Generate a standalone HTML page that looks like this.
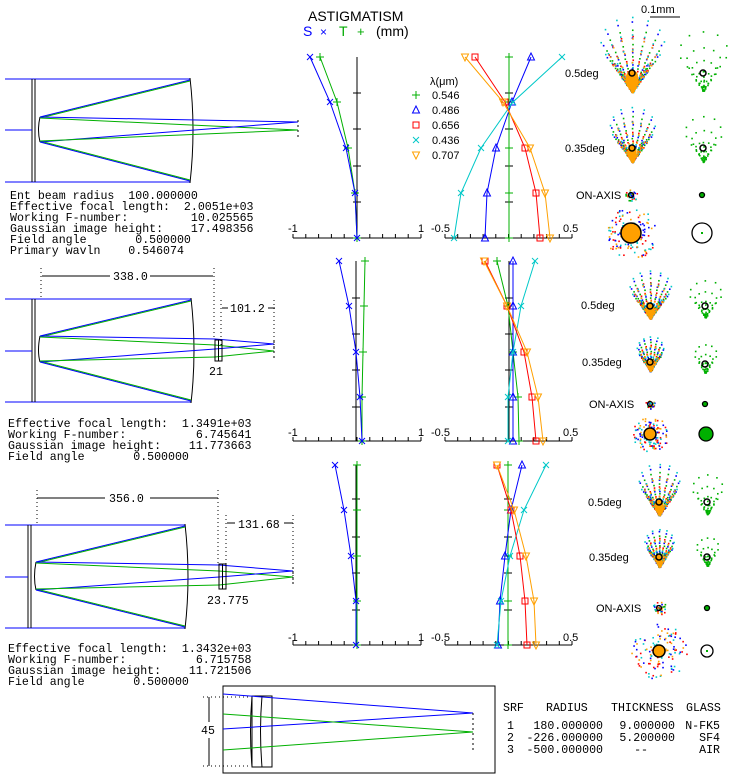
<!DOCTYPE html>
<html><head><meta charset="utf-8"><style>
html,body{margin:0;padding:0;background:#fff;width:743px;height:780px;overflow:hidden}
svg{display:block}
.m{font-family:"Liberation Mono",monospace;font-size:11.6px;fill:#000;white-space:pre}
.s{font-family:"Liberation Sans",sans-serif;font-size:11px;fill:#000}
</style></head><body>
<svg id="s" width="743" height="780" viewBox="0 0 743 780" xmlns="http://www.w3.org/2000/svg">
<g id="g"></g>
<text x="308" y="21" font-family="Liberation Sans,sans-serif" font-size="14" fill="#000">ASTIGMATISM</text>
<text x="303" y="36" font-family="Liberation Sans,sans-serif" font-size="14" fill="#0000ff">S</text>
<text x="320" y="36" font-family="Liberation Sans,sans-serif" font-size="12" fill="#0000ff">×</text>
<text x="339" y="36" font-family="Liberation Sans,sans-serif" font-size="14" fill="#00aa00">T</text>
<text x="357" y="36" font-family="Liberation Sans,sans-serif" font-size="13" fill="#00aa00">+</text>
<text x="376" y="36" font-family="Liberation Sans,sans-serif" font-size="14" fill="#000">(mm)</text>
<text x="641" y="13" class="s" font-size="12">0.1mm</text>
<text class="m" x="10" y="199">Ent beam radius  100.000000</text>
<text class="m" x="10" y="210">Effective focal length:  2.0051e+03</text>
<text class="m" x="10" y="221">Working F-number:         10.025565</text>
<text class="m" x="10" y="232">Gaussian image height:    17.498356</text>
<text class="m" x="10" y="243">Field angle       0.500000</text>
<text class="m" x="10" y="254">Primary wavln    0.546074</text>
<text class="m" x="8" y="427">Effective focal length:  1.3491e+03</text>
<text class="m" x="8" y="438">Working F-number:          6.745641</text>
<text class="m" x="8" y="449">Gaussian image height:    11.773663</text>
<text class="m" x="8" y="460">Field angle       0.500000</text>
<text class="m" x="8" y="652">Effective focal length:  1.3432e+03</text>
<text class="m" x="8" y="663">Working F-number:          6.715758</text>
<text class="m" x="8" y="674">Gaussian image height:    11.721506</text>
<text class="m" x="8" y="685">Field angle       0.500000</text>
<text class="m" x="113" y="280" style="fill:#000">338.0</text>
<text class="m" x="230" y="312">101.2</text>
<text class="m" x="209" y="375">21</text>
<text class="m" x="109" y="502">356.0</text>
<text class="m" x="238" y="528">131.68</text>
<text class="m" x="207" y="604">23.775</text>
<text class="s" x="288" y="232" font-size="12">-1</text><text class="s" x="418" y="232" font-size="12">1</text>
<text class="s" x="431" y="232" font-size="12">-0.5</text><text class="s" x="563" y="232" font-size="12">0.5</text>
<text class="s" x="288" y="436" font-size="12">-1</text><text class="s" x="418" y="436" font-size="12">1</text>
<text class="s" x="431" y="436" font-size="12">-0.5</text><text class="s" x="563" y="436" font-size="12">0.5</text>
<text class="s" x="288" y="641" font-size="12">-1</text><text class="s" x="418" y="641" font-size="12">1</text>
<text class="s" x="431" y="641" font-size="12">-0.5</text><text class="s" x="563" y="641" font-size="12">0.5</text>
<text class="s" x="430" y="85" font-size="12">λ(μm)</text>
<text class="s" x="432" y="99" font-size="12">0.546</text>
<text class="s" x="432" y="114" font-size="12">0.486</text>
<text class="s" x="432" y="129" font-size="12">0.656</text>
<text class="s" x="432" y="144" font-size="12">0.436</text>
<text class="s" x="432" y="159" font-size="12">0.707</text>
<text class="s" x="565" y="77" font-size="12">0.5deg</text>
<text class="s" x="565" y="152" font-size="12">0.35deg</text>
<text class="s" x="576" y="199" font-size="12">ON-AXIS</text>
<text class="s" x="581" y="309" font-size="12">0.5deg</text>
<text class="s" x="582" y="366" font-size="12">0.35deg</text>
<text class="s" x="589" y="408" font-size="12">ON-AXIS</text>
<text class="s" x="588" y="506" font-size="12">0.5deg</text>
<text class="s" x="589" y="561" font-size="12">0.35deg</text>
<text class="s" x="596" y="612" font-size="12">ON-AXIS</text>
<text class="m" x="201" y="734">45</text>
<text class="m" x="503" y="711">SRF</text>
<text class="m" x="546" y="711">RADIUS</text>
<text class="m" x="611" y="711">THICKNESS</text>
<text class="m" x="686" y="711">GLASS</text>
<g class="m" text-anchor="end">
<text class="m" x="514" y="729">1</text><text class="m" x="603" y="729">180.000000</text><text class="m" x="675" y="729">9.000000</text><text class="m" x="720" y="729">N-FK5</text>
<text class="m" x="514" y="741">2</text><text class="m" x="603" y="741">-226.000000</text><text class="m" x="675" y="741">5.200000</text><text class="m" x="720" y="741">SF4</text>
<text class="m" x="514" y="753">3</text><text class="m" x="603" y="753">-500.000000</text><text class="m" x="648" y="753">--</text><text class="m" x="720" y="753">AIR</text>
</g>
</svg>
<script>
var G=document.getElementById('g'),NS='http://www.w3.org/2000/svg';
function E(t,a){var e=document.createElementNS(NS,t);for(var k in a)e.setAttribute(k,a[k]);G.appendChild(e);return e;}
function L(x1,y1,x2,y2,c,d){var a={x1:x1,y1:y1,x2:x2,y2:y2,stroke:c||'#000','stroke-width':1};if(d)a['stroke-dasharray']=d;E('line',a);}
function P(p,c){E('polyline',{points:p.map(function(q){return q.join(',')}).join(' '),fill:'none',stroke:c,'stroke-width':1});}
function Q(p,c){E('path',{d:p,fill:'none',stroke:c||'#000','stroke-width':1});}
var B='#0000ff',GR='#00b000',R='#ff0000',C='#00c8c8',O='#ffa000';
function mk(t,x,y,c){
 if(t=='+'){L(x-4,y,x+4,y,c);L(x,y-4,x,y+4,c);}
 else if(t=='x'){L(x-3,y-3,x+3,y+3,c);L(x-3,y+3,x+3,y-3,c);}
 else if(t=='tri'){E('polygon',{points:(x-3.5)+','+(y+3)+' '+(x+3.5)+','+(y+3)+' '+x+','+(y-4),fill:'none',stroke:c});}
 else if(t=='sq'){E('rect',{x:x-3,y:y-3,width:6,height:6,fill:'none',stroke:c});}
 else if(t=='tdn'){E('polygon',{points:(x-3.5)+','+(y-3)+' '+(x+3.5)+','+(y-3)+' '+x+','+(y+4),fill:'none',stroke:c});}
}
function curve(p,c,t){P(p,c);p.forEach(function(q){mk(t,q[0],q[1],c);});}
function axes(ax,y0,y1,xl,xr,tk){
 L(ax,y0,ax,y1);L(xl,y1,xr,y1);
 for(var i=0;i<=10;i++){var x=xl+(xr-xl)*i/10;L(x,y1,x,y1-4);}
 tk.forEach(function(y){L(ax-4,y,ax+4,y);});
}
var rows=[{y0:57,y1:238,tk:[93,129,166,202],ys:[57,102,148,193,238]},
 {y0:261,y1:441,tk:[298,334,370,407],ys:[261,306,352,397,441]},
 {y0:465,y1:645,tk:[499,537,573,610],ys:[465,510,556,601,645]}];
function mp(xs,r){return xs.map(function(x,i){return [x,rows[r].ys[i]];});}
axes(357,57,238,293,421,rows[0].tk);
curve(mp([320,337,348,355,357],0),GR,'+');
curve(mp([310,330,346,355,357],0),B,'x');
axes(509,57,238,445,572,rows[0].tk);
curve(mp([509,509,509,509,509],0),GR,'+');
curve(mp([531,512,496,487,485],0),B,'tri');
curve(mp([475,505,525,536,540],0),R,'sq');
curve(mp([562,513,481,461,454],0),C,'x');
curve(mp([465,503,530,545,550],0),O,'tdn');
mk('+',416,95,GR);mk('tri',416,110,B);mk('sq',416,125,R);mk('x',416,140,C);mk('tdn',416,155,O);
axes(356,261,441,293,421,rows[1].tk);
curve(mp([365,364,363,362,362],1),GR,'+');
curve(mp([339,349,356,360,362],1),B,'x');
axes(509,261,441,445,572,rows[1].tk);
curve(mp([497,508,513,518,519],1),GR,'+');
curve(mp([513,513,513,513,513],1),B,'tri');
curve(mp([535,521,513,508,508],1),C,'x');
curve(mp([485,507,524,532,536],1),R,'sq');
curve(mp([484,507,527,538,543],1),O,'tdn');
axes(356,465,645,293,421,rows[2].tk);
curve(mp([357,357,357,357,357],2),GR,'+');
curve(mp([335,344,351,356,356],2),B,'x');
axes(508,465,645,445,572,rows[2].tk);
curve(mp([508,508,508,508,508],2),GR,'+');
curve(mp([522,511,505,500,498],2),B,'tri');
curve(mp([546,524,510,501,497],2),C,'x');
curve(mp([497,511,520,525,527],2),R,'sq');
curve(mp([497,514,526,534,536],2),O,'tdn');
function layout(o){
 var t=o.t,b=o.b,a=o.a,d1=o.d1,d2=o.d2,sx=o.sx,st=o.st,sb=o.sb,px=o.px,cx=o.cx;
 L(o.g0,t,px,t,GR);L(o.g0,b,px,b,GR);L(5,t,px,t,B);L(5,b,px,b,B);
 L(d1,t,d1,b);L(d2,t,d2,b);L(5,a,d1,a,B);
 Q('M'+sx+','+st+' Q'+(sx-3)+','+a+' '+sx+','+sb);
 Q('M'+px+','+(t-1)+' Q'+(px+6)+','+a+' '+px+','+(b+1));
 L(sx,st,px,t+1,B);L(sx,st+1,px,t+2,GR);L(sx,sb,px,b-1,B);L(sx,sb-1,px,b-2,GR);
 var by=o.by,gy=o.gy;
 if(o.lx){
  L(sx,st,o.lx,st+3,B);L(o.lx,st+3,cx,by,B);
  L(sx,st+1,o.lx,st+9,GR);L(o.lx,st+9,cx,gy,GR);
  L(sx,sb,o.lx,sb-13,B);L(o.lx,sb-13,cx,by,B);
  L(sx,sb-1,o.lx,sb-5,GR);L(o.lx,sb-5,cx,gy,GR);
  E('rect',{x:o.lx,y:o.ly0,width:o.lw,height:o.ly1-o.ly0,fill:'none',stroke:'#000'});
  L(o.lx+o.lw/2,o.ly0,o.lx+o.lw/2,o.ly1);
 } else {
  L(sx,st,cx,by,B);L(sx,st+1,cx,gy,GR);L(sx,sb,cx,by,B);L(sx,sb-1,cx,gy,GR);
 }
 L(cx,a-10,cx,a+10,'#000','2,3');
}
layout({t:79,b:182,a:130,d1:32,d2:35,g0:75,sx:40,st:117,sb:142,px:190,cx:298,by:122,gy:130});
layout({t:299,b:402,a:351,d1:32,d2:35,g0:65,sx:40,st:336,sb:362,px:191,cx:274,by:344,gy:351,lx:215,lw:7,ly0:340,ly1:361});
layout({t:525,b:628,a:577,d1:28,d2:31,g0:107,sx:36,st:562,sb:590,px:185,cx:293,by:571,gy:577,lx:219,lw:7,ly0:564,ly1:589});
L(42,276,110,276);L(150,276,213,276);L(41,268,41,300,'#000','1,3');L(214,268,214,340,'#000','1,3');
L(222,308,228,308);L(268,308,275,308);L(221,300,221,345,'#000','1,3');L(274,300,274,357,'#000','1,3');
L(37,498,105,498);L(150,498,218,498);L(37,490,37,525,'#000','1,3');L(218,490,218,565,'#000','1,3');
L(227,523,235,523);L(284,523,293,523);L(226,515,226,565,'#000','1,3');L(293,515,293,585,'#000','1,3');
L(650,17,680,17);
E('rect',{x:223,y:686,width:272,height:87,fill:'none',stroke:'#000'});
L(203,697,250,697,'#000','1,3');L(203,766,250,766,'#000','1,3');L(209,697,209,722);L(209,738,209,766);
E('rect',{x:252,y:696,width:20,height:71,fill:'none',stroke:'#000'});
Q('M262,696 Q259,731 262,767');Q('M252,696 Q249,731 252,767');
L(223,694,473,713,B);L(223,729,473,713,B);L(223,714,473,732,GR);L(223,750,473,732,GR);
L(473,713,473,752,'#000','2,3');
var seed=7;function rnd(){seed=(seed*9301+49297)%233280;return seed/233280;}
var cols=[GR,B,R,C,O];
function dot(x,y,c,s){E('rect',{x:x,y:y,width:s||1.6,height:s||1.6,fill:c});}
function coma(cx,cy,kx,ky,multi,rings){
 var ax=cy+ky*0.85;
 for(var w=0;w<(multi?5:1);w++){
  var sc=multi?[1,1.12,0.9,1.2,0.85][w]:1,c=multi?cols[w]:GR;
  for(var r=1;r<=rings;r++){var rho=r/rings,n=multi?12:10;
   for(var j=0;j<n;j++){var f=Math.PI*j/n;
    var x=cx+kx*sc*rho*rho*Math.sin(2*f),y=ax-ky*sc*rho*rho*(2+Math.cos(2*f))*0.95;
    dot(x+(rnd()-.5),y+(rnd()-.5),c);}}
 }
 if(multi){E('ellipse',{cx:cx,cy:cy+ky*0.3,rx:kx*0.25,ry:ky*0.45,fill:O});}
 E('circle',{cx:cx,cy:cy,r:3,fill:'none',stroke:'#000','stroke-width':1.5});
}
function onax(cx,cy,r,multi){
 if(multi){for(var i=0;i<40;i++){var a=rnd()*6.28,d=rnd()*r;dot(cx+d*Math.cos(a),cy+d*Math.sin(a),cols[i%5]);}}
 E('circle',{cx:cx,cy:cy,r:2.5,fill:multi?'none':GR,stroke:'#000','stroke-width':1.3});
}
function big(cx,cy,r,R2,multi,fillc){
 if(multi){for(var i=0;i<110;i++){var a=rnd()*6.28,d=r+rnd()*(R2-r);dot(cx+d*Math.cos(a),cy+d*Math.sin(a),cols[1+i%4]);}
  E('circle',{cx:cx,cy:cy,r:r,fill:O,stroke:'#000','stroke-width':1.5});}
 else{E('circle',{cx:cx,cy:cy,r:r,fill:fillc||'none',stroke:'#000','stroke-width':1.3});dot(cx-1,cy-1,GR,2);}
}
coma(632,73,26,22,1,8);coma(703,73,24,21,0,7);
coma(632,148,19,16,1,7);coma(703,148,18,16,0,6);
onax(631,195,6,1);onax(702,195,0,0);
big(631,233,10,26,1);big(702,233,10,0,0);
coma(650,306,17,14,1,7);coma(705,306,16,13,0,6);
coma(650,362,11,10,1,6);coma(705,364,11,10,0,5);
onax(650,404,5,1);onax(705,404,0,0);
big(650,434,6,18,1);big(706,434,7,0,0,GR);
coma(659,502,17,15,1,7);coma(707,502,15,14,0,6);
coma(659,557,12,11,1,6);coma(707,557,11,10,0,5);
onax(659,608,7,1);onax(707,608,0,0);
big(659,651,6,28,1);big(707,651,6,0,0);
</script>
</body></html>
